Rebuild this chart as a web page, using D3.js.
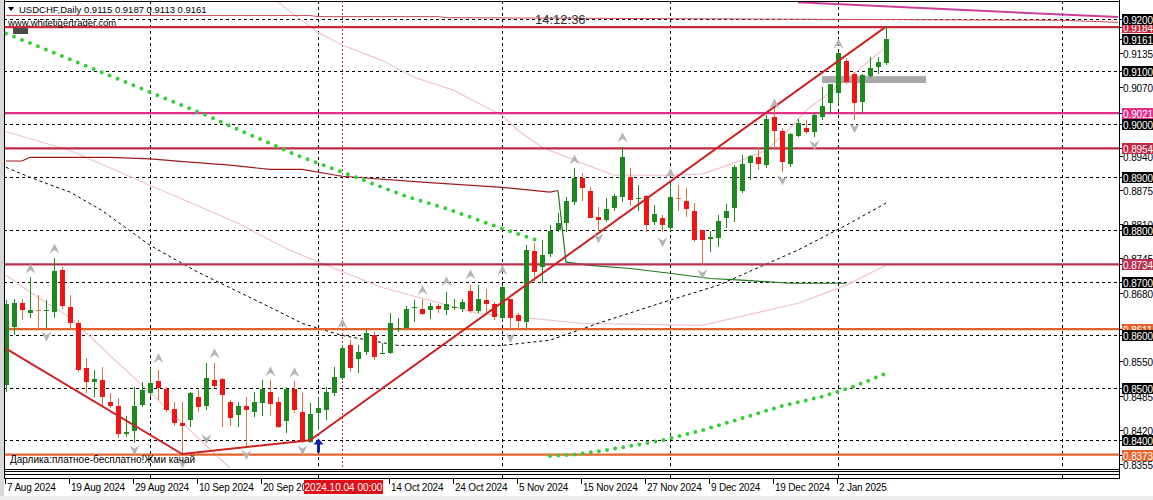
<!DOCTYPE html>
<meta charset="utf-8">
<style>
body, html {
  margin: 0;
  padding: 0;
  background: #fff;
}
svg {
  display: block;
}
text {
  font-family: "Liberation Sans", Arial, sans-serif;
}
</style>
<div id="chart"></div>
<script src="https://d3js.org/d3.v7.min.js"></script>
<script>
const width = 1153
const height = 500

// USDCHF daily, 7 Aug 2024 .. 10 Jan 2025 (bar 0 .. 110)
const openP = [.8504,.8614,.8660,.8641,.8647,.8645,.8643,.8723,.8652,.8622,.8537,.8510,.8514,.8472,.8465,.8413,.8419,.8466,.8489,.8512,
  .8497,.8459,.8432,.8438,.8482,.8465,.8514,.8516,.8472,.8447,.8465,.8453,.8470,.8491,.8472,.8436,.8497,.8453,.8396,.8451,
  .8457,.8491,.8518,.8580,.8554,.8567,.8599,.8563,.8565,.8612,.8614,.8650,.8650,.8647,.8654,.8647,.8652,.8649,.8683,.8647,
  .8666,.8658,.8632,.8669,.8637,.8624,.8759,.8728,.8755,.8798,.8812,.8852,.8897,.8874,.8823,.8817,.8840,.8861,.8899,.8857,
  .8863,.8814,.8821,.8802,.8859,.8854,.8836,.8800,.8781,.8785,.8823,.8840,.8872,.8926,.8937,.8922,.9013,.8986,.8924,.8979,
  .8992,.8984,.9013,.9039,.9058,.9119,.9096,.9043,.9091,.9108,.9115]
const highP = [.8666,.8668,.8669,.8709,.8675,.8666,.8745,.8728,.8675,.8628,.8556,.8533,.8539,.8489,.8480,.8447,.8501,.8510,.8537,.8533,
  .8501,.8472,.8472,.8491,.8495,.8546,.8546,.8518,.8476,.8472,.8482,.8491,.8514,.8514,.8482,.8501,.8512,.8489,.8470,.8482,
  .8501,.8539,.8580,.8590,.8580,.8609,.8605,.8584,.8641,.8633,.8654,.8666,.8668,.8660,.8658,.8681,.8669,.8669,.8694,.8694,
  .8688,.8662,.8694,.8669,.8641,.8770,.8774,.8780,.8808,.8831,.8861,.8916,.8907,.8880,.8842,.8859,.8867,.8956,.8916,.8884,
  .8865,.8846,.8827,.8889,.8884,.8878,.8850,.8800,.8798,.8827,.8848,.8922,.8941,.8941,.8956,.9017,.9030,.8992,.8984,.9009,
  .9007,.9022,.9070,.9077,.9136,.9125,.9098,.9096,.9127,.9128,.9187]
const lowP = [.8491,.8599,.8628,.8633,.8614,.8613,.8633,.8650,.8609,.8529,.8489,.8482,.8466,.8461,.8404,.8406,.8394,.8463,.8482,.8476,
  .8453,.8428,.8374,.8425,.8453,.8457,.8499,.8425,.8428,.8425,.8387,.8444,.8447,.8447,.8423,.8413,.8451,.8394,.8394,.8419,
  .8438,.8485,.8514,.8529,.8527,.8561,.8552,.8563,.8563,.8605,.8613,.8624,.8637,.8630,.8641,.8637,.8647,.8643,.8641,.8641,
  .8641,.8628,.8628,.8611,.8609,.8614,.8698,.8698,.8747,.8795,.8795,.8846,.8855,.8821,.8798,.8814,.8836,.8852,.8844,.8836,
  .8795,.8808,.8795,.8798,.8836,.8823,.8776,.8732,.8757,.8766,.8802,.8814,.8870,.8893,.8912,.8916,.8950,.8909,.8918,.8975,
  .8981,.8975,.9007,.9022,.9039,.9077,.9007,.9022,.9087,.9096,.9113]
const closeP = [.8658,.8660,.8647,.8647,.8645,.8647,.8721,.8654,.8622,.8533,.8510,.8516,.8482,.8465,.8411,.8416,.8466,.8495,.8508,.8499,
  .8457,.8432,.8427,.8489,.8463,.8518,.8502,.8485,.8442,.8465,.8457,.8472,.8497,.8468,.8425,.8497,.8457,.8396,.8449,.8461,
  .8491,.8521,.8575,.8537,.8567,.8603,.8557,.8565,.8622,.8614,.8650,.8652,.8641,.8654,.8649,.8658,.8652,.8662,.8645,.8669,
  .8658,.8633,.8690,.8633,.8626,.8761,.8719,.8751,.8798,.8812,.8854,.8897,.8878,.8823,.8817,.8838,.8863,.8937,.8855,.8859,
  .8808,.8829,.8808,.8861,.8857,.8838,.8781,.8781,.8785,.8817,.8836,.8918,.8924,.8939,.8924,.9009,.8986,.8928,.8981,.9003,
  .8984,.9017,.9034,.9076,.9134,.9079,.9041,.9094,.9106,.9117,.9161]

const dateLabels = ["7 Aug 2024", "19 Aug 2024", "29 Aug 2024", "10 Sep 2024", "20 Sep 2024", "14 Oct 2024", "24 Oct 2024",
  "5 Nov 2024", "15 Nov 2024", "27 Nov 2024", "9 Dec 2024", "19 Dec 2024", "2 Jan 2025"]
const dateBars = [0, 8, 16, 24, 32, 48, 56, 64, 72, 80, 88, 96, 104]
const monthBars = [18, 39, 62, 83, 104, 132]
const cursorBar = 42
const cursorLabel = "2024.10.04 00:00"

const gridPrices = [0.92, 0.91, 0.90, 0.89, 0.88, 0.87, 0.86, 0.85, 0.84]
const minorPrices = [0.9135, 0.9070, 0.8940, 0.8875, 0.8810, 0.8745, 0.8680, 0.8550, 0.8485, 0.8420, 0.8355]
const levelPrices = [0.9184, 0.9021, 0.8954, 0.8734, 0.8611, 0.8373]
const lastPrice = 0.9161

// indicator lines: [bar, price]
const maSlowBars = [0, 8, 18, 29, 35, 37, 47, 59, 72, 87, 99, 105, 110]
const maSlowVals = [.8986, .8950, .8884, .8812, .8764, .8751, .8690, .8641, .8622, .8618, .8660, .8694, .8732]
const maMidBars = [34, 39, 42, 47, 51, 56, 60, 62, 64, 67, 72, 76, 83, 87, 91, 95, 98, 100, 103, 106, 109, 110]
const maMidVals = [.9231, .9174, .9150, .9121, .9089, .9064, .9032, .9017, .8988, .8956, .8926, .8903, .8903, .8905, .8926, .8950, .8992, .9026, .9060, .9096, .9134, .9146]
const maFastBars = [0, 4, 8, 13, 18, 23, 28]
const maFastVals = [.8713, .8671, .8633, .8561, .8491, .8419, .8347]
const maDashBars = [0, 3, 8, 12, 18, 24, 32, 37, 42, 49, 62, 68, 74, 83, 89, 99, 105, 110]
const maDashVals = [.8918, .8899, .8871, .8836, .8770, .8719, .8660, .8622, .8599, .8580, .8580, .8590, .8622, .8666, .8694, .8761, .8808, .8850]
const stopDownBars = [0, 2, 3, 13, 18, 23, 28, 33, 37, 42, 52, 62, 68, 69]
const stopDownVals = [.8930, .8930, .8937, .8937, .8934, .8928, .8922, .8914, .8914, .8901, .8890, .8880, .8871, .8874]
const stopUpBars = [69, 70, 73, 78, 83, 88, 92, 98, 105]
const stopUpVals = [.8874, .8738, .8732, .8726, .8717, .8707, .8704, .8698, .8698]
const sarHighBars = [0, 8, 25, 36, 42, 50, 55, 62, 67]
const sarHighVals = [.9172, .9123, .9017, .8943, .8909, .8863, .8840, .8802, .8776]
const sarLowBars = [68, 71, 74, 78, 82, 87, 92, 97, 102, 106, 110]
const sarLowVals = [.8370, .8373, .8379, .8389, .8400, .8419, .8442, .8465, .8483, .8502, .8527]
const topMaBars = [0, 38, 39, 54, 55, 98, 132, 139]
const topMaVals = [.9206, .9206, .9204, .9204, .9202, .9199, .9197, .9193]

// drawn trend lines
const trendFromBar = [0, 22, 38, 99]
const trendFromVal = [.8574, .8374, .8400, .9231]
const trendToBar = [22, 38, 110, 139]
const trendToVal = [.8374, .8400, .9185, .9203]

const zoneBars = [102, 115]
const zoneVals = [.9078, .9091]
const signalBar = 39
const signalVal = .8390

const upFractalBars = [3, 6, 19, 26, 33, 36, 42, 52, 55, 58, 62, 71, 77, 83, 96, 104]
const upFractalVals = [.8726, .8764, .8556, .8565, .8531, .8529, .8622, .8685, .8702, .8715, .8723, .8933, .8975, .8907, .9039, .9153]
const downFractalBars = [5, 16, 22, 25, 30, 37, 63, 74, 82, 87, 97, 101, 106]
const downFractalVals = [.8597, .8381, .8356, .8402, .8372, .8381, .8594, .8783, .8776, .8715, .8893, .8960, .8992]

const x = d3.scaleLinear().domain([0, 110]).range([6, 886])
const y = d3.scaleLinear().domain([0.84, 0.92]).range([440.3, 18.7])

const plotLeft = 4, plotRight = 1119, plotTop = 1, plotBottom = 468

let svg = d3.select("#chart")
            .append("svg")
            .attr("width", width)
            .attr("height", height)

svg.append("rect").attr("width", width).attr("height", height).attr("fill", "#fff")
svg.append("rect").attr("x", 0).attr("y", 0).attr("width", plotLeft).attr("height", height).attr("fill", "#d8d8d8")
svg.append("rect").attr("x", 0).attr("y", 496).attr("width", width).attr("height", 4).attr("fill", "#ececec")

svg.append("clipPath").attr("id", "plot")
  .append("rect")
  .attr("x", plotLeft + 1).attr("y", plotTop)
  .attr("width", plotRight - plotLeft - 1).attr("height", plotBottom - plotTop)

let plot = svg.append("g").attr("clip-path", "url(#plot)")

const line = d3.line().x(d => x(d[0])).y(d => y(d[1]))
function pts(bars, vals) { return bars.map((b, i) => [b, vals[i]]) }

// grid
plot.selectAll(".hgrid")
  .data(gridPrices)
  .enter().append("line")
  .attr("x1", plotLeft).attr("x2", plotRight)
  .attr("y1", d => Math.round(y(d)) + 0.5).attr("y2", d => Math.round(y(d)) + 0.5)
  .attr("stroke", "#000").attr("stroke-dasharray", "3,3")

plot.selectAll(".vgrid")
  .data(monthBars)
  .enter().append("line")
  .attr("x1", d => x(d) + 0.5).attr("x2", d => x(d) + 0.5)
  .attr("y1", plotTop).attr("y2", plotBottom)
  .attr("stroke", "#000").attr("stroke-dasharray", "3,3")

plot.append("line")
  .attr("x1", x(cursorBar) + 0.5).attr("x2", x(cursorBar) + 0.5)
  .attr("y1", plotTop).attr("y2", plotBottom)
  .attr("stroke", "#d03030").attr("stroke-dasharray", "2,2")

// faint moving averages
const faint = [[maSlowBars, maSlowVals], [maMidBars, maMidVals], [maFastBars, maFastVals]]
faint.forEach(function(s) {
  plot.append("path")
    .attr("d", line(pts(s[0], s[1])))
    .attr("fill", "none").attr("stroke", "#f0c4cc").attr("stroke-width", 1.2)
})

plot.append("path")
  .attr("d", line(pts(maDashBars, maDashVals)))
  .attr("fill", "none").attr("stroke", "#000").attr("stroke-dasharray", "3,3")

plot.append("path")
  .attr("d", line(pts(topMaBars, topMaVals)))
  .attr("fill", "none").attr("stroke", "#d04a5a").attr("stroke-width", 1)

plot.append("path")
  .attr("d", line(pts(stopDownBars, stopDownVals)))
  .attr("fill", "none").attr("stroke", "#a01c1c").attr("stroke-width", 1.2)
plot.append("path")
  .attr("d", line(pts(stopUpBars, stopUpVals)))
  .attr("fill", "none").attr("stroke", "#1c7a1c").attr("stroke-width", 1.2)

// horizontal levels
const levelColor = ["#c8283c", "#e0308c", "#c22a44", "#b8304e", "#e0642c", "#e8642c"]
plot.selectAll(".level")
  .data(levelPrices)
  .enter().append("line")
  .attr("x1", plotLeft).attr("x2", plotRight)
  .attr("y1", d => y(d)).attr("y2", d => y(d))
  .attr("stroke", (d, i) => levelColor[i]).attr("stroke-width", 2.2)

// grey zone
plot.append("rect")
  .attr("x", x(zoneBars[0]))
  .attr("y", y(zoneVals[1]))
  .attr("width", x(zoneBars[1]) - x(zoneBars[0]))
  .attr("height", y(zoneVals[0]) - y(zoneVals[1]))
  .attr("fill", "#a9a9a9")

// parabolic dots
const sars = [[sarHighBars, sarHighVals, 8.6], [sarLowBars, sarLowVals, 8.2]]
sars.forEach(function(s) {
  plot.append("path")
    .attr("d", line(pts(s[0], s[1])))
    .attr("fill", "none").attr("stroke", "#3acc3a")
    .attr("stroke-width", 4).attr("stroke-linecap", "round")
    .attr("stroke-dasharray", "0," + s[2])
})

// candles
const bars = openP.map((o, i) => ({ i: i, o: o, h: highP[i], l: lowP[i], c: closeP[i] }))
let candle = plot.selectAll(".candle")
  .data(bars)
  .enter().append("g")
  .attr("shape-rendering", "crispEdges")

candle.append("line")
  .attr("x1", d => x(d.i) + 0.5).attr("x2", d => x(d.i) + 0.5)
  .attr("y1", d => y(d.h)).attr("y2", d => y(d.l))
  .attr("stroke", d => d.c >= d.o ? "#1e8a1e" : "#e0703c")

candle.append("rect")
  .attr("x", d => x(d.i) - 2)
  .attr("y", d => Math.round(y(Math.max(d.o, d.c))))
  .attr("width", 5)
  .attr("height", d => Math.max(1, Math.round(Math.abs(y(d.o) - y(d.c)))))
  .attr("fill", d => d.c >= d.o ? "#1e8a1e" : (Math.abs(d.o - d.c) < 0.0003 ? "#e0703c" : "#f01414"))

// trend lines
plot.selectAll(".trend")
  .data(trendFromBar)
  .enter().append("line")
  .attr("x1", (d, i) => x(d)).attr("y1", (d, i) => y(trendFromVal[i]))
  .attr("x2", (d, i) => x(trendToBar[i])).attr("y2", (d, i) => y(trendToVal[i]))
  .attr("stroke", (d, i) => i == 3 ? "#cc3c9a" : "#cc2222")
  .attr("stroke-width", 2)

// fractals
const upArrow = "M-5,5 L0,-5 L5,5 L0,1.5 Z"
const downArrow = "M-5,-5 L0,5 L5,-5 L0,-1.5 Z"
plot.selectAll(".fup")
  .data(upFractalBars)
  .enter().append("path")
  .attr("d", upArrow)
  .attr("transform", (d, i) => "translate(" + (x(d) + 0.5) + "," + y(upFractalVals[i]) + ")")
  .attr("fill", "#b4b4b4")
plot.selectAll(".fdown")
  .data(downFractalBars)
  .enter().append("path")
  .attr("d", downArrow)
  .attr("transform", (d, i) => "translate(" + (x(d) + 0.5) + "," + y(downFractalVals[i]) + ")")
  .attr("fill", "#b4b4b4")

// signal arrow
plot.append("path")
  .attr("d", "M0,-7 L5,-1 L1.5,-1 L1.5,7 L-1.5,7 L-1.5,-1 L-5,-1 Z")
  .attr("transform", "translate(" + (x(signalBar) + 0.5) + "," + y(signalVal) + ")")
  .attr("fill", "#1020a8")

// texts in plot
svg.append("path").attr("d", "M8,7 L14,7 L11,11 Z").attr("fill", "#000")
svg.append("text").attr("x", 19).attr("y", 13).attr("font-size", "9.5px").attr("fill", "#000")
  .text("USDCHF,Daily  0.9115 0.9187 0.9113 0.9161")
svg.append("text").attr("x", 8).attr("y", 26).attr("font-size", "9.5px").attr("fill", "#000")
  .text("www.whitetigertrader.com")
svg.append("rect").attr("x", 13).attr("y", 28).attr("width", 15).attr("height", 6).attr("fill", "#4a4a4a")
svg.append("text").attr("x", 535).attr("y", 24).attr("font-size", "13px").attr("fill", "#333")
  .text("14:12:36")
svg.append("text").attr("x", 10).attr("y", 463).attr("font-size", "10px").attr("fill", "#000")
  .text("Дарлика:платное-бесплатно!Жми качай")

// frame
svg.append("line").attr("x1", plotLeft + 0.5).attr("x2", plotLeft + 0.5).attr("y1", 0).attr("y2", 479).attr("stroke", "#000")
svg.append("line").attr("x1", plotLeft).attr("x2", plotRight).attr("y1", plotTop + 0.5).attr("y2", plotTop + 0.5).attr("stroke", "#000")
svg.append("line").attr("x1", plotRight + 0.5).attr("x2", plotRight + 0.5).attr("y1", 0).attr("y2", 479).attr("stroke", "#000")

// strip under the plot
const stripY = [469.5, 471.5, 474.5, 478.5]
svg.selectAll(".strip")
  .data(stripY)
  .enter().append("line")
  .attr("x1", plotLeft).attr("x2", plotRight)
  .attr("y1", d => d).attr("y2", d => d)
  .attr("stroke", "#000")
svg.selectAll(".stripv")
  .data(monthBars.concat([]))
  .enter().append("line")
  .attr("x1", d => x(d) + 0.5).attr("x2", d => x(d) + 0.5)
  .attr("y1", 474.5).attr("y2", 478.5)
  .attr("stroke", "#000")

// time axis
svg.selectAll(".xtick")
  .data(dateBars)
  .enter().append("line")
  .attr("x1", d => x(d) - 0.5).attr("x2", d => x(d) - 0.5)
  .attr("y1", 479).attr("y2", 484)
  .attr("stroke", "#000")
svg.selectAll(".xlabel")
  .data(dateBars)
  .enter().append("text")
  .attr("x", d => x(d) + 1)
  .attr("y", 491)
  .attr("font-size", "10px")
  .attr("letter-spacing", "-0.2px")
  .attr("fill", "#000")
  .text((d, i) => dateLabels[i])

svg.append("rect")
  .attr("x", x(cursorBar) - 38).attr("y", 480)
  .attr("width", 79).attr("height", 14)
  .attr("fill", "#e01018")
svg.append("text")
  .attr("x", x(cursorBar) + 1.5).attr("y", 491)
  .attr("text-anchor", "middle")
  .attr("font-size", "10px")
  .attr("fill", "#fff")
  .text(cursorLabel)

// price axis
const fmt = d3.format(".4f")
function priceTag(p, bg, fg) {
  let g = svg.append("g").attr("transform", "translate(0," + Math.round(y(p)) + ")")
  g.append("line").attr("x1", plotRight).attr("x2", plotRight + 4).attr("y1", 0.5).attr("y2", 0.5).attr("stroke", "#000")
  if (bg) g.append("rect").attr("x", 1122).attr("y", -5).attr("width", 31).attr("height", 11).attr("fill", bg)
  g.append("text").attr("x", 1123).attr("y", 4.5).attr("font-size", "10px").attr("letter-spacing", "-0.1px")
    .attr("fill", fg).text(fmt(p))
}
minorPrices.forEach(p => priceTag(p, null, "#000"))
levelPrices.forEach((p, i) => priceTag(p, levelColor[i], "#fff"))
gridPrices.forEach(p => priceTag(p, "#000", "#fff"))
priceTag(lastPrice, "#000", "#fff")
</script>
